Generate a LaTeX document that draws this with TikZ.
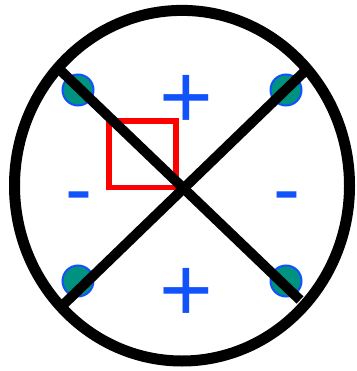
\documentclass[tikz,border=0pt]{standalone}
\usepackage{fontspec}
\setmainfont{Liberation Sans}
\usepackage{tikz}
\usetikzlibrary{positioning}
\definecolor{signblue}{RGB}{18,82,250}
\definecolor{dotteal}{RGB}{0,146,128}
\tikzset{
  rim/.style={black,line width=11pt},
  diag/.style={black,line width=10pt},
  pole/.style={circle,draw=signblue,fill=dotteal,line width=2pt,minimum size=31pt,inner sep=0pt},
  cell/.style={draw=red,line width=5.5pt},
  plussign/.style={text=signblue,inner sep=0pt,anchor=base,font=\fontsize{92}{92}\selectfont},
  minussign/.style={text=signblue,inner sep=0pt,anchor=base,font=\fontsize{81}{81}\selectfont},
}
\begin{document}
\begin{tikzpicture}[x=1pt,y=-1pt]
  \path[use as bounding box] (0,0) rectangle (356,371);

  % outer ring
  \draw[rim] (182,185.7) ellipse [x radius=167.5, y radius=175.3];

  % the four poles
  \node[pole] (poleA) at (78,90) {};
  \node[pole] (poleB) at (286,90) {};
  \node[pole] (poleC) at (78,281) {};
  \node[pole] (poleD) at (286,281) {};

  % signs
  \node[plussign] (plusT) at (186,128.8) {+};
  \node[plussign] (plusB) at (186,321) {+};
  \node[minussign] (minusL) at (79,216) {-};
  \node[minussign] (minusR) at (287,216) {-};

  % highlighted cell
  \draw[cell] (109,121) rectangle (176,187.5);

  % the two diagonals
  \coordinate (diagA1) at (58,68);
  \coordinate (diagA2) at (300,300);
  \coordinate (diagB1) at (304,72);
  \coordinate (diagB2) at (64,304);
  \draw[diag] (diagA1) -- (diagA2);
  \draw[diag] (diagB1) -- (diagB2);
\end{tikzpicture}
\end{document}
